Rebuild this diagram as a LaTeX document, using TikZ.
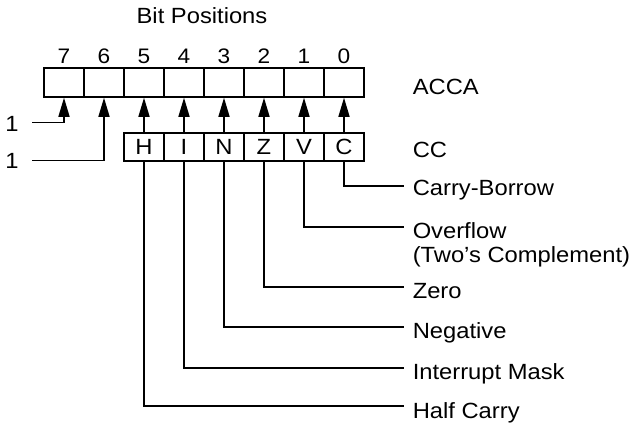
\documentclass[tikz,border=0pt]{standalone}
\usepackage{fontspec}
\setmainfont[FakeStretch=1.08]{Liberation Sans}
\usetikzlibrary{arrows.meta}
\begin{document}
\begin{tikzpicture}[x=1bp,y=-1bp,
  line width=1.5bp,
  every node/.style={inner sep=0pt, font=\fontsize{22bp}{24bp}\selectfont},
  cellbox/.style={draw, line width=1.5bp, minimum width=40bp, minimum height=29bp, anchor=center},
  flagbox/.style={draw, line width=1.5bp, minimum width=40bp, minimum height=28bp, anchor=center, text height=15.75bp, text depth=0pt},
  digit/.style={anchor=base, font=\fontsize{21bp}{23bp}\selectfont},
  lbl/.style={anchor=base west, align=left},
  arr/.style={-{Triangle[length=19bp,width=11bp]}}]
\useasboundingbox (0,0) rectangle (641,422);

% title
\node[anchor=base] (title) at (202,23) {Bit Positions};

% ACCA cells
\foreach \b/\xx in {7/64,6/104,5/144,4/184,3/224,2/264,1/304,0/344}{
  \node[cellbox] (a\b) at (\xx,82.5) {};
  \node[digit] (d\b) at (\xx,63) {\b};
}
\node[lbl] (acca) at (412,94.5) {ACCA};

% CC cells
\foreach \f/\xx in {H/144,I/184,N/224,Z/264,V/304,C/344}{
  \node[flagbox] (c\f) at (\xx,147) {\f};
}
\node[lbl] (cc) at (412,157) {CC};

% arrows CC -> ACCA
\foreach \f/\b in {H/5,I/4,N/3,Z/2,V/1,C/0}{
  \draw[arr] (c\f.north) -- (a\b.south);
}

% constant ones
\node[anchor=base] (one7) at (12,131) {1};
\node[anchor=base] (one6) at (12,168) {1};
\coordinate (s7) at (32,122.5);
\coordinate (s6) at (32,160.5);
\draw[arr] (s7) -| (a7.south);
\draw[arr] (s6) -| (a6.south);

% flag descriptions
\coordinate (eC) at (404,186);
\coordinate (eV) at (404,227);
\coordinate (eZ) at (404,287);
\coordinate (eN) at (404,327);
\coordinate (eI) at (404,368);
\coordinate (eH) at (404,406);
\draw (cC.south) |- (eC);
\draw (cV.south) |- (eV);
\draw (cZ.south) |- (eZ);
\draw (cN.south) |- (eN);
\draw (cI.south) |- (eI);
\draw (cH.south) |- (eH);

\node[lbl] (tC) at (412,195.5) {Carry-Borrow};
\node[lbl] (tV) at (412,262) {Overflow\\(Two's Complement)};
\node[lbl] (tZ) at (412,298) {Zero};
\node[lbl] (tN) at (412,338) {Negative};
\node[lbl] (tI) at (412,379) {Interrupt Mask};
\node[lbl] (tH) at (412,418) {Half Carry};
\end{tikzpicture}
\end{document}
